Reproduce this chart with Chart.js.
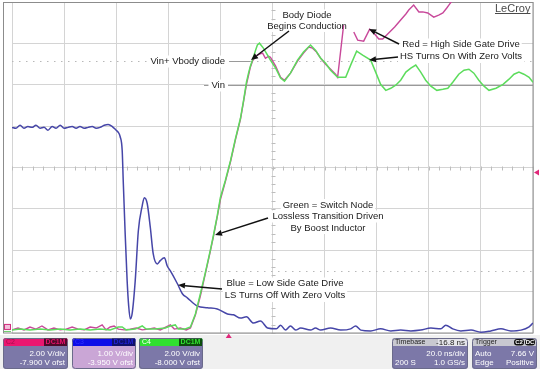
<!DOCTYPE html>
<html><head><meta charset="utf-8">
<script src="https://cdn.jsdelivr.net/npm/chart.js@4.4.1/dist/chart.umd.min.js"></script>
<style>html,body{margin:0;padding:0;background:#fff;overflow:hidden}canvas{display:block}</style>
</head><body>
<canvas id="c" width="540" height="369"></canvas>
<script>
// ---- Data (time in ns relative to trigger, values in volts) ----
const greenTime = [-83.2,-80.1,-76.3,-72.4,-68.6,-64.7,-60.9,-57.1,-53.2,-49.4,-45.5,-42.4,-40.9,-39.4,-35.9,-33.2,-31.7,-28.2,-24.4,-22.4,-20.5,-19.4,-16.7,-14.7,-12.8,-10.9,-9.0,-7.1,-5.9,-4.4,-3.2,-1.3,0.7,2.6,4.5,5.7,6.8,7.6,8.3,9.1,10.3,11.0,11.8,13.3,14.9,16.0,18.0,19.9,21.4,23.7,26.4,28.7,31.4,33.3,35.3,37.2,39.1,41.8,44.9,46.8,49.1,51.4,54.5,56.4,58.3,60.3,62.2,64.1,66.0,68.0,69.9,71.8,73.7,75.6,77.6,79.9,82.2,84.1,86.0,88.3,90.3,92.2,94.1,96.0,98.0,99.9,102.6,105.3,107.6,109.5,111.4,113.3,115.3,116.8];
const greenVolts = [0.15,0.19,0.15,0.19,0.15,0.19,0.15,0.19,0.15,0.19,0.15,0.29,0.29,0.15,0.19,0.34,0.19,0.19,0.24,0.34,0.39,0.19,0.19,0.29,0.92,1.89,2.91,3.98,4.70,5.67,6.55,7.37,8.34,9.41,10.38,11.25,12.12,12.56,12.90,13.19,13.67,13.92,14.01,13.77,13.43,13.19,12.80,12.32,12.17,12.56,13.19,13.58,13.92,13.67,13.28,13.04,12.70,12.36,12.36,12.95,13.62,13.43,13.19,12.61,12.02,11.73,11.83,11.98,12.22,12.61,12.80,12.95,12.61,12.22,11.93,11.73,11.78,11.83,12.12,12.51,12.70,12.75,12.56,12.22,11.93,11.73,11.83,12.02,12.27,12.51,12.61,12.51,12.36,12.12];

const blueTime = [-83.2,-81.7,-80.1,-78.6,-77.1,-75.5,-74.0,-72.4,-70.9,-69.4,-67.8,-66.3,-64.7,-63.2,-61.7,-60.1,-58.6,-57.1,-55.5,-54.0,-52.4,-50.9,-49.4,-47.8,-46.3,-44.7,-43.2,-42.4,-41.7,-40.9,-40.5,-39.8,-39.0,-38.4,-37.8,-37.1,-35.9,-34.7,-33.2,-32.4,-31.3,-30.1,-29.0,-27.4,-26.3,-24.7,-23.6,-22.4,-19.7,-17.8,-15.9,-12.0,-8.2,-4.4,-0.5,1.8,4.5,6.8,9.5,12.2,14.9,18.3,19.9,21.8,23.7,25.7,27.6,31.4,33.3,35.3,39.1,43.0,46.8,48.7,50.7,54.5,58.3,62.2,66.0,69.9,73.7,77.6,81.4,83.3,86.0,89.1,93.0,96.8,100.6,104.5,108.3,112.2,115.3,116.8];
const blueVolts = [4.92,4.90,4.97,4.90,4.94,4.92,4.97,4.90,4.92,4.85,4.94,4.90,4.97,4.90,4.92,4.94,4.90,4.94,4.90,4.92,4.94,4.90,4.92,4.97,4.99,4.94,4.85,4.80,4.70,4.36,3.63,2.42,1.21,0.60,0.29,0.41,1.21,2.42,3.03,3.22,3.08,2.50,1.87,1.62,1.70,1.77,1.57,1.45,1.14,0.90,0.80,0.60,0.56,0.53,0.41,0.39,0.31,0.34,0.19,0.24,0.07,0.05,0.14,0.02,0.12,0.02,0.07,0.02,0.07,0.02,0.07,0.02,0.05,0.12,0.02,0.00,0.05,0.00,0.02,0.00,0.02,0.07,0.05,0.14,0.05,0.00,0.02,-0.03,0.00,0.05,0.00,0.02,0.10,0.19];

const redTime = [-83.2,-80.9,-78.6,-76.3,-74.0,-71.7,-69.4,-67.1,-64.7,-62.4,-60.1,-57.8,-55.5,-53.2,-50.9,-48.6,-47.1,-45.5,-44.0,-42.4,-40.1,-37.8,-35.5,-33.2,-30.9,-28.6,-26.3,-24.0,-22.4,-20.9,-18.6,-16.3,-14.7,-12.8,-10.9,-9.0,-7.1,-5.9,-4.4,-3.2,-1.3,0.7,2.6,4.5,5.7,6.8,7.6,8.3,9.1,10.3,11.8,13.0,14.1,15.3,16.0,18.0,19.9,21.4,23.7,26.4,28.7,30.7,32.2,33.7,35.3,37.2,39.1,41.0,41.8,43.0,44.1,46.0,48.0,49.5,51.8,54.1,56.0,57.6,59.1,61.4,63.7,66.0,68.0,69.1,71.0,73.0,74.5,76.4,78.7,80.6,82.2,83.7,84.5,86.0,87.6];
const redVolts = [0.05,0.14,0.05,0.19,0.09,0.24,0.05,0.14,0.05,0.09,0.19,0.09,0.05,0.19,0.14,0.29,0.05,0.19,0.24,0.09,0.05,0.09,0.14,0.05,0.09,0.14,0.05,0.19,0.29,0.09,0.14,0.05,0.14,0.77,1.69,2.76,3.83,4.55,5.52,6.35,7.22,8.19,9.26,10.23,11.10,11.92,12.36,12.75,13.04,13.28,13.38,13.43,13.18,13.28,13.23,12.80,12.26,12.12,12.46,13.04,13.43,13.72,13.67,13.48,13.18,12.89,12.65,12.41,12.26,13.57,14.78,null,14.45,14.06,14.01,14.59,14.35,14.11,14.11,14.40,14.69,15.03,15.32,15.51,15.75,15.42,15.42,15.37,15.17,15.27,15.37,15.61,15.75,16.00,16.38];

// Channel settings (V/div, offset V)
const ch2 = {scale:2.00, offset:-7.900};   // red
const ch3 = {scale:1.00, offset:-3.950};   // blue
const ch4 = {scale:2.00, offset:-8.000};   // green
const timePerDiv = 20;            // ns/div
const timeStart = -83.2;          // ns at left edge
const triggerLevel = 7.66;        // V on C2
const vinVolts = 12.0;            // Vin on C4
const vbodyVolts = 13.16;         // Vin + Vbody diode on C4
const dottedVolts = 3.0;          // lower dotted cursor on C4

const timeGrid = Array.from({length:11},(_,k)=>Math.round((timeStart+timePerDiv*k)*10)/10);

function toDiv(v,ch){ return v==null?null: 4 + (v+ch.offset)/ch.scale; }
function series(t,v,ch){ const n=Math.min(t.length,v.length),o=[]; for(let i=0;i<n;i++) o.push({x:t[i],y:toDiv(v[i],ch)}); return o; }

const FONT='"Liberation Sans", Arial, Helvetica, sans-serif';

function rr(ctx,x,y,w,h,r){ctx.beginPath();ctx.moveTo(x+r,y);ctx.lineTo(x+w-r,y);ctx.quadraticCurveTo(x+w,y,x+w,y+r);ctx.lineTo(x+w,y+h-r);ctx.quadraticCurveTo(x+w,y+h,x+w-r,y+h);ctx.lineTo(x+r,y+h);ctx.quadraticCurveTo(x,y+h,x,y+h-r);ctx.lineTo(x,y+r);ctx.quadraticCurveTo(x,y,x+r,y);ctx.closePath();}

const notes = [
  {lines:['Body Diode','Begins Conduction'], cx:307, cy:15.5, lh:11},
  {lines:['Red = High Side Gate Drive','HS Turns On With Zero Volts'], cx:461, cy:44.5, lh:12},
  {lines:['Green = Switch Node','Lossless Transition Driven','By Boost Inductor'], cx:328, cy:205, lh:11.5},
  {lines:['Blue = Low Side Gate Drive','LS Turns Off With Zero Volts'], cx:285, cy:283.5, lh:12}
];
const arrows = [[289,31,251,60],[399,44,369,29],[398,57,369,60],[268,218,215,235],[222,289,178,285]];

function noteBg(ctx){
  ctx.save(); ctx.font='9.5px '+FONT; ctx.fillStyle='#fff';
  notes.forEach(n=>{ n.lines.forEach((s,i)=>{ const w=ctx.measureText(s).width; ctx.fillRect(n.cx-w/2-2, n.cy+i*n.lh-6, w+4, n.lh+0.5); }); });
  ctx.restore();
}
function noteText(ctx){
  ctx.save(); ctx.font='9.5px '+FONT; ctx.fillStyle='#1a1a1a'; ctx.textAlign='center'; ctx.textBaseline='middle';
  notes.forEach(n=>{ n.lines.forEach((s,i)=>ctx.fillText(s,n.cx,n.cy+i*n.lh)); });
  ctx.restore();
}
function arrow(ctx,x1,y1,x2,y2){
  const a=Math.atan2(y2-y1,x2-x1), L=7, Wd=3;
  const bx=x2-L*Math.cos(a), by=y2-L*Math.sin(a);
  ctx.beginPath(); ctx.moveTo(x1,y1); ctx.lineTo(bx,by); ctx.stroke();
  ctx.beginPath(); ctx.moveTo(x2,y2);
  ctx.lineTo(bx+Wd*Math.sin(a), by-Wd*Math.cos(a));
  ctx.lineTo(bx-Wd*Math.sin(a), by+Wd*Math.cos(a)); ctx.closePath(); ctx.fill();
}

function chanBox(ctx,b){
  const y=338,h=31,hh=8,{x,w}=b;
  ctx.save();
  rr(ctx,x,y,w,h,3); ctx.fillStyle=b.body; ctx.fill();
  ctx.save(); rr(ctx,x,y,w,h,3); ctx.clip(); ctx.fillStyle=b.hdr; ctx.fillRect(x,y,w,hh);
  if(b.hdr2){ctx.fillStyle=b.hdr2; ctx.fillRect(x+b.split,y,w-b.split,hh);} ctx.restore();
  rr(ctx,x+0.5,y+0.5,w-1,h-1,3); ctx.strokeStyle='#6a6a8a'; ctx.lineWidth=1; ctx.stroke();
  ctx.textBaseline='middle';
  ctx.font='7px '+FONT; ctx.fillStyle=b.nameFg; ctx.textAlign='left'; ctx.fillText(b.name,x+3,y+4.5);
  if(b.badge){ ctx.fillStyle=b.badgeBg; ctx.fillRect(x+w-24,y+0.5,23,7.5);
    ctx.font='bold 7px '+FONT; ctx.fillStyle=b.badgeFg; ctx.textAlign='center'; ctx.fillText(b.badge,x+w-12.5,y+4.5); }
  if(b.hdrRight){ ctx.font='8px '+FONT; ctx.fillStyle='#222'; ctx.textAlign='right'; ctx.fillText(b.hdrRight,x+w-3,y+4.5); }
  if(b.pills){ b.pills.forEach((p,i)=>{ const px=x+w-23+i*11; ctx.fillStyle='#111'; rr(ctx,px,y+1,10,6.5,3); ctx.fill();
    ctx.font='bold 6px '+FONT; ctx.fillStyle='#fff'; ctx.textAlign='center'; ctx.fillText(p,px+5,y+4.5); }); }
  ctx.font='8px '+FONT; ctx.fillStyle='#fff';
  b.rows.forEach((r,i)=>{ const yy=y+16+i*9; if(r[0]){ctx.textAlign='left'; ctx.fillText(r[0],x+3,yy);} if(r[1]){ctx.textAlign='right'; ctx.fillText(r[1],x+w-3,yy);} });
  ctx.restore();
}

const scopePlugin = {
  id:'scope',
  beforeDraw(chart){
    const ctx=chart.ctx; ctx.save();
    ctx.fillStyle='#fff'; ctx.fillRect(0,0,540,369);
    ctx.fillStyle='#f0f0f0'; ctx.fillRect(0,335,540,34);
    ctx.restore();
  },
  beforeDatasetsDraw(chart){
    const ctx=chart.ctx, xs=chart.scales.x, ys=chart.scales.y, a=chart.chartArea;
    ctx.save();
    ctx.strokeStyle='#bdbdbd'; ctx.lineWidth=1;
    const yc=Math.round(ys.getPixelForValue(4))+0.5, xc=Math.round(xs.getPixelForValue(timeStart+5*timePerDiv))+0.5;
    ctx.beginPath();
    for(let k=0;k<=50;k++){ const px=Math.round(xs.getPixelForValue(timeStart+k*timePerDiv/5))+0.5; ctx.moveTo(px,yc-2); ctx.lineTo(px,yc+2); }
    for(let k=0;k<=40;k++){ const py=Math.round(ys.getPixelForValue(k/5))+0.5; ctx.moveTo(xc-2,py); ctx.lineTo(xc+2,py); }
    ctx.stroke();
    ctx.setLineDash([1.5,5.5]); ctx.strokeStyle='#b8b8b8';
    [vbodyVolts,dottedVolts].forEach(v=>{ const py=Math.round(ys.getPixelForValue(toDiv(v,ch4)))+0.5; ctx.beginPath(); ctx.moveTo(a.left,py); ctx.lineTo(a.right,py); ctx.stroke(); });
    ctx.setLineDash([]);
    ctx.strokeStyle='#9a9a9a';
    const pv=Math.round(ys.getPixelForValue(toDiv(vinVolts,ch4)))+0.5;
    ctx.beginPath(); ctx.moveTo(204,pv); ctx.lineTo(a.right,pv); ctx.stroke();
    const pb=Math.round(ys.getPixelForValue(toDiv(vbodyVolts,ch4)))+0.5;
    ctx.beginPath(); ctx.moveTo(229,pb); ctx.lineTo(250,pb); ctx.stroke();
    ctx.font='9.5px '+FONT; ctx.fillStyle='#fff';
    let w=ctx.measureText('Vin+ Vbody diode').width; ctx.fillRect(225-w-3,pb-6,w+6,12);
    w=ctx.measureText('Vin').width; ctx.fillRect(225-w-3,pv-6,w+6,12);
    noteBg(ctx);
    ctx.fillStyle='#1a1a1a'; ctx.textAlign='right'; ctx.textBaseline='middle';
    ctx.fillText('Vin+ Vbody diode',225,pb); ctx.fillText('Vin',225,pv);
    ctx.strokeStyle='#8c8c8c'; ctx.strokeRect(3.5,2.5,a.right-3.5,a.bottom-2.5);
    ctx.restore();
  },
  afterDraw(chart){
    const ctx=chart.ctx, xs=chart.scales.x, ys=chart.scales.y, a=chart.chartArea;
    ctx.save();
    noteText(ctx);
    ctx.strokeStyle='#111'; ctx.fillStyle='#111'; ctx.lineWidth=1.5;
    arrows.forEach(r=>arrow(ctx,...r));
    ctx.font='11px '+FONT; ctx.fillStyle='#4a4a4a'; ctx.textAlign='left'; ctx.textBaseline='alphabetic';
    ctx.fillText('LeCroy',495,12); const lw=ctx.measureText('LeCroy').width;
    ctx.fillRect(495,13,lw,1);
    ctx.fillStyle='#e0287a';
    const tx=xs.getPixelForValue(0);
    ctx.beginPath(); ctx.moveTo(tx,333.5); ctx.lineTo(tx-3,338); ctx.lineTo(tx+3,338); ctx.closePath(); ctx.fill();
    const ty=ys.getPixelForValue(toDiv(triggerLevel,ch2));
    ctx.beginPath(); ctx.moveTo(a.right+1,ty); ctx.lineTo(a.right+6,ty-3); ctx.lineTo(a.right+6,ty+3); ctx.closePath(); ctx.fill();
    const gy=ys.getPixelForValue(toDiv(0,ch2));
    ctx.fillStyle='#f4c0dc'; ctx.fillRect(4,gy-7,7,6); ctx.strokeStyle='#d0307e'; ctx.lineWidth=1; ctx.strokeRect(4.5,gy-6.5,6,5);
    ctx.fillStyle='#66cc66'; ctx.fillRect(4,gy,7,1);
    chanBox(ctx,{x:3,w:65,name:'C2',nameFg:'#a0104c',hdr:'#ea1670',body:'#7c78a8',badge:'DC1M',badgeBg:'#4e0a2a',badgeFg:'#e8106a',rows:[[null,'2.00 V/div'],[null,'-7.900 V ofst']]});
    chanBox(ctx,{x:72,w:64,name:'C3',nameFg:'#3030ff',hdr:'#0c0ce8',body:'#caa6d6',badge:'DC1M',badgeBg:'#10106a',badgeFg:'#2020d0',rows:[[null,'1.00 V/div'],[null,'-3.950 V ofst']]});
    chanBox(ctx,{x:139,w:64,name:'C4',nameFg:'#ffffff',hdr:'#30e030',body:'#7c78a8',badge:'DC1M',badgeBg:'#0c4c0c',badgeFg:'#30e030',rows:[[null,'2.00 V/div'],[null,'-8.000 V ofst']]});
    chanBox(ctx,{x:392,w:76,name:'Timebase',nameFg:'#222',hdr:'#c8c8d0',hdr2:'#e4e4ea',split:46,body:'#7c78a8',hdrRight:'-16.8 ns',rows:[[null,'20.0 ns/div'],['200 S','1.0 GS/s']]});
    chanBox(ctx,{x:472,w:65,name:'Trigger',nameFg:'#222',hdr:'#c8c8d0',body:'#7c78a8',pills:['C2','DC'],rows:[['Auto','7.66 V'],['Edge','Positive']]});
    ctx.restore();
  }
};

new Chart(document.getElementById('c'),{
  type:'line',
  data:{datasets:[
    {label:'C4 Switch Node',data:series(greenTime,greenVolts,ch4),borderColor:'#5cdc5c',borderWidth:1.5,tension:0},
    {label:'C2 High Side Gate',data:series(redTime,redVolts,ch2),borderColor:'#c8489a',borderWidth:1.4,tension:0,spanGaps:false},
    {label:'C3 Low Side Gate',data:series(blueTime,blueVolts,ch3),borderColor:'#4646a8',borderWidth:1.5,cubicInterpolationMode:'monotone'}
  ]},
  options:{
    responsive:false, animation:false, devicePixelRatio:1, events:[],
    layout:{padding:{left:12,right:7,top:2,bottom:36}},
    plugins:{legend:{display:false},tooltip:{enabled:false}},
    elements:{point:{radius:0}},
    scales:{
      x:{type:'linear',min:timeGrid[0],max:timeGrid[10],afterBuildTicks:ax=>{ax.ticks=timeGrid.map(v=>({value:v}));},
         ticks:{display:false},grid:{color:'#d4d4d4',drawTicks:false},border:{display:false}},
      y:{type:'linear',min:0,max:8,ticks:{display:false,stepSize:1},grid:{color:'#d4d4d4',drawTicks:false},border:{display:false}}
    }
  },
  plugins:[scopePlugin]
});
</script>
</body></html>
